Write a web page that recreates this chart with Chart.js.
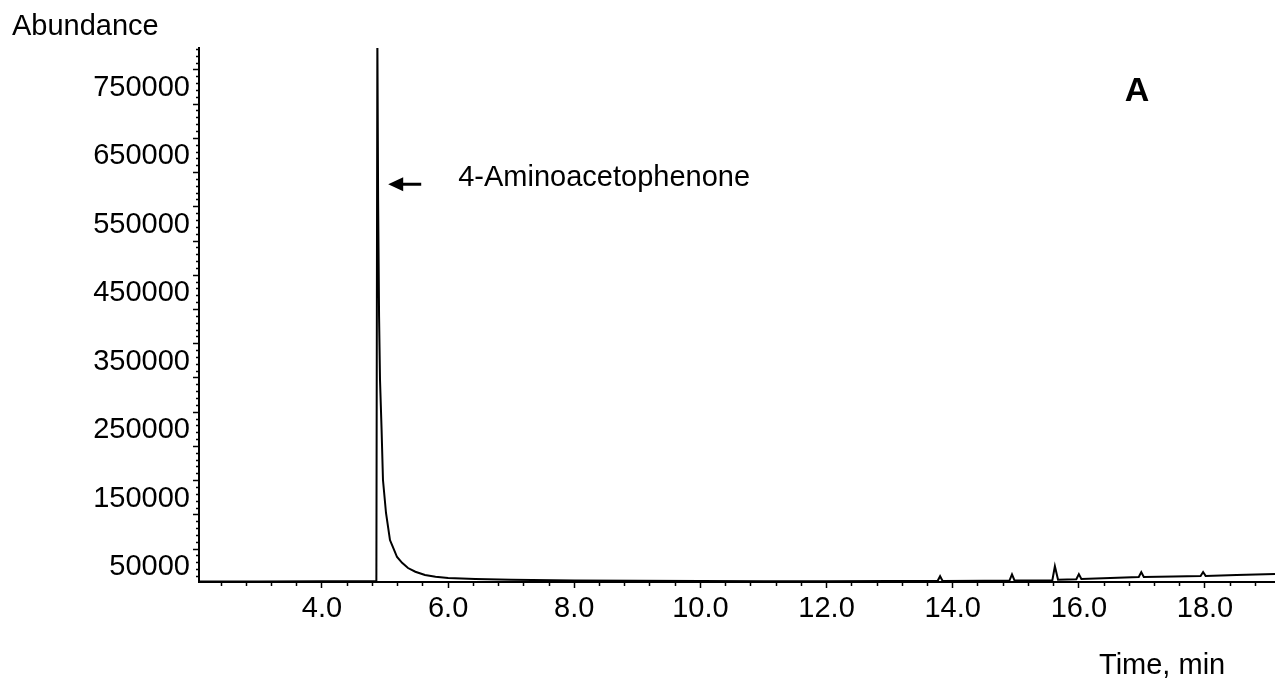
<!DOCTYPE html>
<html>
<head>
<meta charset="utf-8">
<script src="https://cdn.jsdelivr.net/npm/chart.js@4/dist/chart.umd.min.js"></script>
<style>
  html, body { margin: 0; padding: 0; background: #fff; }
  #wrap { width: 1275px; height: 680px; position: relative; }
</style>
</head>
<body>
<div id="wrap"><canvas id="chart"></canvas></div>
<script>
// retention time (min) and detector abundance
const times = [
  2.05, 3.0, 4.0, 4.85, 4.862, 4.878, 4.890, 4.905, 4.920, 4.945, 4.967,
  5.015, 5.078, 5.12, 5.19, 5.27, 5.364, 5.48, 5.633, 5.8, 6.0, 6.43, 7.0,
  8.0, 9.0, 10.0, 11.0, 12.0, 13.0, 13.76, 13.80, 13.84, 14.5, 14.90, 14.94,
  14.98, 15.3, 15.58, 15.62, 15.67, 15.96, 16.00, 16.04, 16.5, 16.95, 16.99,
  17.03, 17.5, 17.93, 17.97, 18.01, 18.5, 19.11
];
const abundance = [
  2800, 2900, 3000, 3000, 3200, 800000, 560000, 390000, 297000, 224000, 151000,
  102800, 63300, 54000, 38500, 30000, 22400, 17000, 12200, 9800, 7800, 6400, 5400,
  4300, 3700, 3400, 3200, 3200, 3300, 3400, 10500, 3500, 3700, 4100, 13000,
  4200, 4300, 4700, 25000, 5200, 6100, 13500, 6300, 7800, 9200, 16500,
  9400, 10000, 10700, 16500, 10900, 12200, 13700
];

// axis ranges and tick steps
const xRange = [2.05, 19.11];
const yRange = [2000, 782000];
const xMinorStep = 0.4, xMajorStep = 2;
const yMinorStep = 10000, yMajorStep = 50000;

// peak annotation (in data units)
const peakName = '4-Aminoacetophenone';
const peakArrowAt = [5.05, 583000];

const points = times.map((t, i) => ({ x: t, y: abundance[i] }));

const FONT = '"Liberation Sans", Arial, Helvetica, sans-serif';

// titles, panel letter and the arrow to the peak
const textPlugin = {
  id: 'textPlugin',
  afterDraw(chart) {
    const ctx = chart.ctx;
    const xs = chart.scales.x;
    const ys = chart.scales.y;
    ctx.save();
    ctx.fillStyle = '#000';
    ctx.textBaseline = 'middle';
    ctx.textAlign = 'left';
    ctx.font = '29px ' + FONT;
    ctx.fillText('Abundance', 12, 27);
    ctx.fillText('Time, min', 1099, 666);

    ctx.font = 'bold 34px ' + FONT;
    ctx.textAlign = 'center';
    ctx.fillText('A', 1137, 92);

    // arrow
    const tipX = xs.getPixelForValue(peakArrowAt[0]);
    const tipY = ys.getPixelForValue(peakArrowAt[1]);
    ctx.strokeStyle = '#000';
    ctx.lineWidth = 3;
    ctx.beginPath();
    ctx.moveTo(tipX + 12, tipY);
    ctx.lineTo(tipX + 33, tipY);
    ctx.stroke();
    ctx.beginPath();
    ctx.moveTo(tipX, tipY);
    ctx.lineTo(tipX + 15, tipY - 7);
    ctx.lineTo(tipX + 15, tipY + 7);
    ctx.closePath();
    ctx.fill();

    ctx.font = '29px ' + FONT;
    ctx.textAlign = 'left';
    ctx.fillText(peakName, tipX + 70, tipY - 6);
    ctx.restore();
  }
};

const isMult = (v, step) => Math.abs(v / step - Math.round(v / step)) < 1e-6;

new Chart(document.getElementById('chart'), {
  type: 'line',
  data: {
    datasets: [{
      data: points,
      borderColor: '#000',
      borderWidth: 2,
      pointRadius: 0,
      tension: 0,
      fill: false
    }]
  },
  options: {
    responsive: true,
    maintainAspectRatio: false,
    animation: false,
    devicePixelRatio: 1,
    layout: { padding: { top: 48, right: 0, left: 0, bottom: 0 } },
    plugins: {
      legend: { display: false },
      tooltip: { enabled: false }
    },
    scales: {
      x: {
        type: 'linear',
        min: xRange[0],
        max: xRange[1],
        afterFit(scale) { scale.height = 98; },
        border: { color: '#000', width: 2 },
        grid: {
          drawOnChartArea: false,
          tickLength: 6,
          tickColor: '#000',
          tickWidth: 1.5,
          tickBorderDash: (c) => (c.tick && isMult(c.tick.value, xMajorStep)) ? [] : [3, 100]
        },
        ticks: {
          stepSize: xMinorStep,
          includeBounds: false,
          autoSkip: false,
          maxRotation: 0,
          maxTicksLimit: 1000,
          padding: 4,
          color: '#000',
          font: { family: FONT, size: 29 },
          callback: (v) => isMult(v, xMajorStep) ? v.toFixed(1) : ''
        }
      },
      y: {
        type: 'linear',
        min: yRange[0],
        max: yRange[1],
        afterBuildTicks(scale) {
          const ticks = [];
          for (let v = Math.ceil(yRange[0] / yMinorStep) * yMinorStep; v <= yRange[1]; v += yMinorStep) {
            ticks.push({ value: v });
          }
          scale.ticks = ticks;
        },
        afterFit(scale) { scale.width = 199; },
        border: { color: '#000', width: 2 },
        grid: {
          drawOnChartArea: false,
          tickLength: 6,
          tickColor: '#000',
          tickWidth: 1.5,
          tickBorderDash: (c) => (c.tick && isMult(c.tick.value, yMajorStep)) ? [] : [0, 3, 3, 100]
        },
        ticks: {
          autoSkip: false,
          padding: 3,
          labelOffset: 18,
          color: '#000',
          font: { family: FONT, size: 29 },
          callback: (v) => (Math.round(v) % (2 * yMajorStep) === yMajorStep) ? String(Math.round(v)) : ''
        }
      }
    }
  },
  plugins: [textPlugin]
});
</script>
</body>
</html>
